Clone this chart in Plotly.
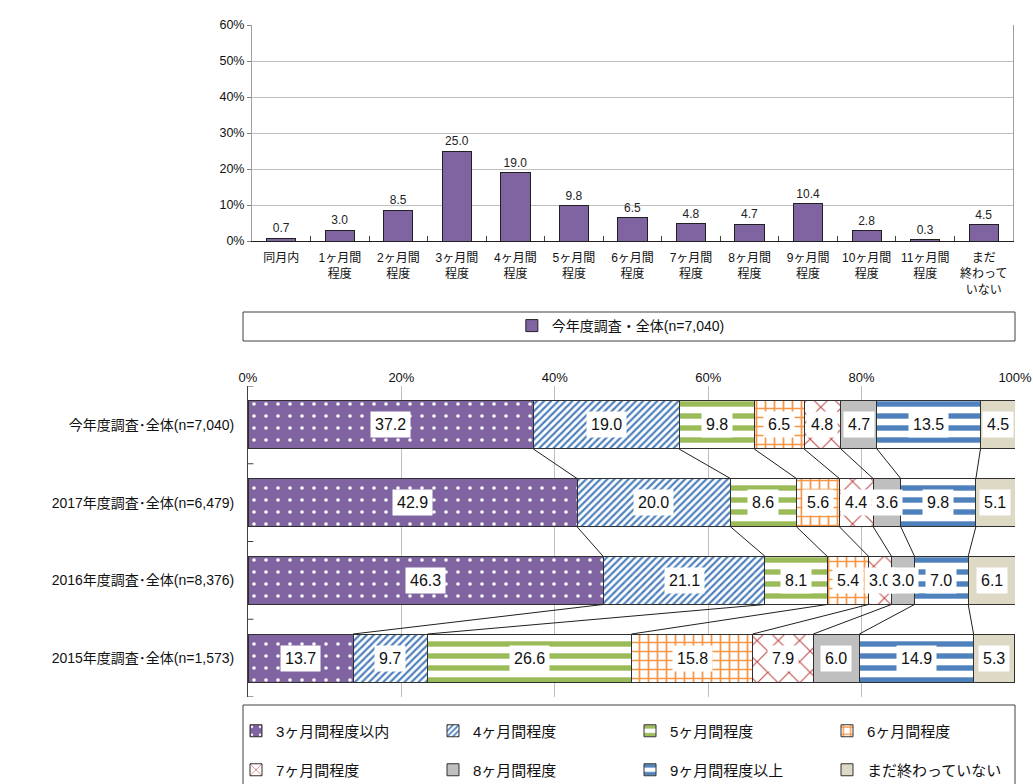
import plotly.graph_objects as go

# ---- upper chart: distribution of months (this year's survey) ----
top_categories = ["同月内", "1ヶ月間<br>程度", "2ヶ月間<br>程度", "3ヶ月間<br>程度", "4ヶ月間<br>程度",
                  "5ヶ月間<br>程度", "6ヶ月間<br>程度", "7ヶ月間<br>程度", "8ヶ月間<br>程度",
                  "9ヶ月間<br>程度", "10ヶ月間<br>程度", "11ヶ月間<br>程度", "まだ<br>終わって<br>いない"]
top_values = [0.7, 3.0, 8.5, 25.0, 19.0, 9.8, 6.5, 4.8, 4.7, 10.4, 2.8, 0.3, 4.5]
top_series_name = "今年度調査・全体(n=7,040)"

# ---- lower chart: 100% stacked comparison by survey year ----
row_labels = ["今年度調査･全体(n=7,040)", "2017年度調査･全体(n=6,479)",
              "2016年度調査･全体(n=8,376)", "2015年度調査･全体(n=1,573)"]
segment_names = ["3ヶ月間程度以内", "4ヶ月間程度", "5ヶ月間程度", "6ヶ月間程度",
                 "7ヶ月間程度", "8ヶ月間程度", "9ヶ月間程度以上", "まだ終わっていない"]
seg_3m_or_less = [37.2, 42.9, 46.3, 13.7]
seg_4m = [19.0, 20.0, 21.1, 9.7]
seg_5m = [9.8, 8.6, 8.1, 26.6]
seg_6m = [6.5, 5.6, 5.4, 15.8]
seg_7m = [4.8, 4.4, 3.0, 7.9]
seg_8m = [4.7, 3.6, 3.0, 6.0]
seg_9m_plus = [13.5, 9.8, 7.0, 14.9]
seg_not_done = [4.5, 5.1, 6.1, 5.3]
segment_values = [seg_3m_or_less, seg_4m, seg_5m, seg_6m, seg_7m, seg_8m, seg_9m_plus, seg_not_done]

FONT = "Liberation Sans, Arial, Noto Sans CJK JP, sans-serif"
W, H = 1033, 784

def px_x(p):
    return p / W

def px_y(p):
    return 1 - p / H

def pat(shape, fg, bg, size, solidity):
    return dict(shape=shape, fgcolor=fg, bgcolor=bg, size=size, solidity=solidity,
                fgopacity=1, fillmode="replace")

segment_styles = [
    dict(color="#8064A2", pattern=pat(".", "white", "#8064A2", 12, 0.07)),
    dict(color="white", pattern=pat("/", "#4F81BD", "white", 5, 0.45)),
    dict(color="white", pattern=pat("-", "#9BBB59", "white", 12, 0.45)),
    dict(color="white", pattern=pat("+", "#F79646", "white", 9, 0.35)),
    dict(color="white", pattern=pat("x", "#C0504D", "white", 15, 0.15)),
    dict(color="#BFBFBF"),
    dict(color="white", pattern=pat("-", "#4F81BD", "white", 12, 0.45)),
    dict(color="#DDD9C4"),
]

fig = go.Figure()

fig.add_trace(go.Bar(
    x=top_categories, y=top_values, name=top_series_name,
    xaxis="x", yaxis="y", legend="legend",
    marker=dict(color="#8064A2", line=dict(color="#202020", width=1)),
    width=0.5,
    text=[f"{v:.1f}" for v in top_values], textposition="outside",
    textfont=dict(size=12, color="#222"), cliponaxis=False,
))

rows = list(range(len(row_labels)))
bar_w = 0.62
for j, (name, vals) in enumerate(zip(segment_names, segment_values)):
    st = segment_styles[j]
    marker = dict(color=st["color"], line=dict(color="#303030", width=1))
    if "pattern" in st:
        marker["pattern"] = st["pattern"]
    fig.add_trace(go.Bar(
        x=vals, y=rows, orientation="h", name=name,
        xaxis="x2", yaxis="y2", width=bar_w,
        legend="legend2" if j < 4 else "legend3",
        marker=marker, hoverinfo="x+name",
    ))

# cumulative boundaries per row
cums = []
for i in rows:
    c = [0.0]
    for vals in segment_values:
        c.append(c[-1] + vals[i])
    cums.append(c)

# connector lines between neighbouring rows at each segment boundary
lx, ly = [], []
for i in rows[:-1]:
    for k in range(1, len(segment_values)):
        lx += [cums[i][k], cums[i + 1][k], None]
        ly += [i + bar_w / 2, i + 1 - bar_w / 2, None]
fig.add_trace(go.Scatter(x=lx, y=ly, xaxis="x2", yaxis="y2", mode="lines",
                         line=dict(color="#202020", width=1), showlegend=False,
                         hoverinfo="skip"))

annotations = []
for i in rows:
    for j, vals in enumerate(segment_values):
        v = vals[i]
        annotations.append(dict(
            x=cums[i][j] + v / 2, y=i, xref="x2", yref="y2",
            text=f"{v:.1f}", showarrow=False, bgcolor="white", borderpad=4,
            font=dict(size=16, color="#111", family=FONT),
        ))

shapes = [
    dict(type="rect", xref="paper", yref="paper",
         x0=px_x(243), x1=px_x(1015), y0=px_y(341), y1=px_y(312),
         line=dict(color="#404040", width=1), fillcolor="rgba(0,0,0,0)", layer="below"),
    dict(type="rect", xref="paper", yref="paper",
         x0=px_x(243), x1=px_x(1015), y0=px_y(800), y1=px_y(705),
         line=dict(color="#404040", width=1), fillcolor="rgba(0,0,0,0)", layer="below"),
]

legend_common = dict(orientation="h", bgcolor="rgba(0,0,0,0)", itemwidth=30,
                     traceorder="normal")

fig.update_layout(
    width=W, height=H, margin=dict(l=0, r=0, t=0, b=0, autoexpand=False),
    paper_bgcolor="white", plot_bgcolor="white",
    font=dict(family=FONT, size=12, color="#111"),
    barmode="stack", bargap=0.4,
    xaxis=dict(domain=[px_x(252), px_x(1013)], anchor="y", type="category",
               showline=True, linecolor="#202020", linewidth=1,
               ticks="inside", tickson="boundaries", ticklen=5, tickcolor="#404040",
               tickfont=dict(size=12), tickangle=0, ticklabelstandoff=6,
               showgrid=False, automargin=False),
    yaxis=dict(domain=[px_y(241), px_y(25)], anchor="x", range=[0, 60], dtick=10,
               ticksuffix="%", showgrid=True, gridcolor="#BFBFBF",
               showline=True, linecolor="#A0A0A0", mirror=True,
               ticks="outside", ticklen=4, tickcolor="#808080",
               tickfont=dict(size=12.5), zeroline=False, automargin=False),
    xaxis2=dict(domain=[px_x(248), px_x(1015)], anchor="y2", side="top", range=[0, 100],
                dtick=20, ticksuffix="%", showgrid=True, gridcolor="#BFBFBF",
                zeroline=False, showline=False, tickfont=dict(size=13), automargin=False),
    yaxis2=dict(domain=[px_y(697), px_y(386)], anchor="x2", range=[3.5, -0.5],
                tickvals=rows, ticktext=row_labels, tickfont=dict(size=14),
                showline=True, linecolor="#404040", showgrid=False, zeroline=False,
                ticks="", ticklabelstandoff=10, automargin=False),
    legend=dict(legend_common, x=0.601, xanchor="center", y=px_y(326), yanchor="middle",
                font=dict(size=14)),
    legend2=dict(legend_common, x=px_x(236), xanchor="left", y=px_y(731), yanchor="middle",
                 font=dict(size=15), entrywidth=152, entrywidthmode="pixels"),
    legend3=dict(legend_common, x=px_x(236), xanchor="left", y=px_y(770), yanchor="middle",
                 font=dict(size=15), entrywidth=152, entrywidthmode="pixels"),
    annotations=annotations, shapes=shapes,
)

# inside tick marks on the category boundaries of the lower chart's left axis
for b in [-0.5, 0.5, 1.5, 2.5, 3.5]:
    fig.add_shape(type="line", xref="x2", yref="y2", x0=0, x1=0.7, y0=b, y1=b,
                  line=dict(color="#404040", width=1))

fig.write_html("out.html")
